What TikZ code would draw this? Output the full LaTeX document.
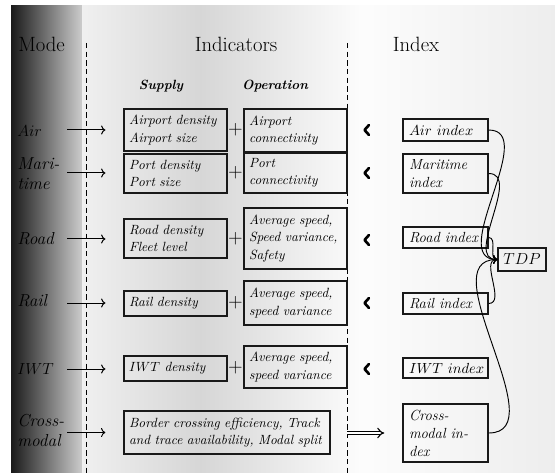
\documentclass[tikz,border=0pt]{standalone}
\usetikzlibrary{arrows.meta,calc}
\begin{document}
\begin{tikzpicture}[x=0.75pt,y=-0.75pt,
  sbox/.style={draw=black!90, line width=0.95pt, inner xsep=3.8pt, inner ysep=0pt, align=left, text width=69.6pt, font=\fontsize{10}{13}\selectfont\itshape},
  ibox/.style={draw=black!90, line width=0.95pt, inner xsep=4.5pt, inner ysep=0pt, align=left, text width=54.75pt, font=\fontsize{11}{13.5}\selectfont\itshape},
  modelab/.style={anchor=west, inner sep=0pt, align=left, font=\fontsize{13}{15}\selectfont\itshape},
  header/.style={inner sep=0pt, anchor=base, font=\fontsize{15.5}{18}\selectfont},
  sub/.style={inner sep=0pt, anchor=base, font=\fontsize{10}{12}\selectfont\bfseries\itshape},
  plus/.style={inner sep=0pt, font=\fontsize{13.5}{15}\selectfont},
  modearr/.style={->, line width=0.75pt, shorten >=13.5pt},
  tdparr/.style={->, line width=0.7pt, out=0, in=180},
  chev/.style={line width=2pt, line cap=round, line join=round},
  divider/.style={dash pattern=on 4pt off 2.5pt, line width=0.7pt}
]
\useasboundingbox (0,0) rectangle (555,473);
% background
\fill[white] (0,0) rectangle (555,473);
\shade[left color=black!90, right color=black!20] (11,6) rectangle (82,473);
\shade[left color=black!6, right color=black!16] (82,6) rectangle (200.5,473);
\shade[left color=black!16, right color=black!1] (200,6) rectangle (362.5,473);
\shade[left color=black!1, right color=black!7] (362,6) rectangle (555,473);

% dividers
\draw[divider] (86,43) -- (86,473);
\draw[divider] (347,43) -- (347,473);

% headers
\node[header, anchor=base west] (hMode) at (18,52) {Mode};
\node[header] (hInd) at (236,52) {Indicators};
\node[header] (hIdx) at (416,52) {Index};
\node[sub] (hSup) at (161,90) {Supply};
\node[sub] (hOp) at (275,90) {Operation};

% mode labels
\node[modelab] (mAir) at (17,131) {$Air$};
\node[modelab] (mMar) at (17,174) {Mari-\\time};
\node[modelab] (mRoad) at (17,239) {Road};
\node[modelab] (mRail) at (17,301) {Rail};
\node[modelab] (mIWT) at (17,369) {$IWT$};
\node[modelab] (mCross) at (17,430) {Cross-\\modal};

% supply boxes
\node[sbox, minimum height=31.5pt] (sAir) at (175.5,130) {Airport density\\Airport size};
\node[sbox, minimum height=29.25pt] (sMar) at (175.5,173.5) {Port density\\Port size};
\node[sbox, minimum height=29.25pt] (sRoad) at (175.5,238.5) {Road density\\Fleet level};
\node[sbox, minimum height=18.75pt] (sRail) at (175.5,303.5) {Rail density};
\node[sbox, minimum height=18.75pt] (sIWT) at (175.5,368.5) {$IWT$ density};
\node[sbox, minimum height=32.25pt, text width=146.9pt] (sCross) at (227,432.5) {Border crossing efficiency, Track\\and trace availability, Modal split};

% operation boxes
\node[sbox, minimum height=32.25pt] (oAir) at (295.5,130.5) {Airport\\connectivity};
\node[sbox, minimum height=30pt] (oMar) at (295.5,173) {Port\\connectivity};
\node[sbox, minimum height=45.75pt] (oRoad) at (295.5,238.5) {Average speed,\\Speed variance,\\Safety};
\node[sbox, minimum height=33pt] (oRail) at (295.5,303) {Average speed,\\speed variance};
\node[sbox, minimum height=31.5pt] (oIWT) at (295.5,367) {Average speed,\\speed variance};

% plus signs
\node[plus] (pAir) at (235.5,130) {$+$};
\node[plus] (pMar) at (235.5,173) {$+$};
\node[plus] (pRoad) at (235.5,238.5) {$+$};
\node[plus] (pRail) at (235.5,303) {$+$};
\node[plus] (pIWT) at (235.5,368) {$+$};

% index boxes
\node[ibox, minimum height=16.5pt] (iAir) at (445.5,130) {$Air\ index$};
\node[ibox, minimum height=29.25pt] (iMar) at (445.5,173.5) {Maritime\\index};
\node[ibox, minimum height=15.75pt] (iRoad) at (445.5,237.5) {Road index};
\node[ibox, minimum height=15.75pt] (iRail) at (445.5,303.5) {Rail index};
\node[ibox, minimum height=15pt] (iIWT) at (445.5,368) {$IWT\ index$};
\node[ibox, minimum height=43.5pt] (iCross) at (445.5,433) {Cross-\\modal in-\\dex};
\node[draw=black!90, line width=0.95pt, inner sep=0pt, minimum width=36pt, minimum height=17.25pt, font=\fontsize{13}{15}\selectfont] (tdp) at (522,259.5) {$TDP$};

% mode arrows
\coordinate (aAir) at (67,130);
\coordinate (aMar) at (67,173);
\coordinate (aRoad) at (67,239);
\coordinate (aRail) at (67,303);
\coordinate (aIWT) at (67,369);
\coordinate (aCross) at (67,432.5);
\draw[modearr] (aAir) -- (aAir -| sAir.west);
\draw[modearr] (aMar) -- (aMar -| sMar.west);
\draw[modearr] (aRoad) -- (aRoad -| sRoad.west);
\draw[modearr] (aRail) -- (aRail -| sRail.west);
\draw[modearr] (aIWT) -- (aIWT -| sIWT.west);
\draw[modearr] (aCross) -- (aCross -| sCross.west);

% chevrons
\foreach \yy in {130,173,240,303,369}{
  \draw[chev] (369,\yy-5) -- (364.5,\yy) -- (369,\yy+5);
}

% double arrow
\coordinate (dStart) at (347,433);
\draw[double, double distance=1.8pt, line width=0.85pt, -{Implies}, shorten >=13.5pt] (dStart) -- (dStart -| iCross.west);

% to TDP
\draw[tdparr] (iAir.east) to (tdp.west);
\draw[tdparr] (iMar.east) to (tdp.west);
\draw[tdparr] (iRoad.east) to (tdp.west);
\draw[tdparr] (iRail.east) to (tdp.west);
\draw[tdparr] (iCross.east) to (tdp.west);
\end{tikzpicture}
\end{document}
